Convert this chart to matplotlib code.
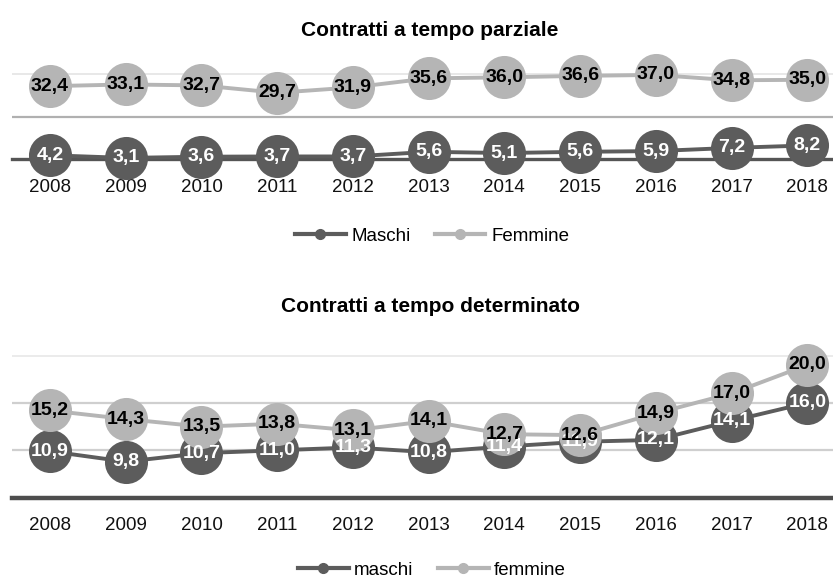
import matplotlib
matplotlib.use('Agg')
import matplotlib.pyplot as plt
from matplotlib.lines import Line2D

anni = ['2008', '2009', '2010', '2011', '2012', '2013', '2014', '2015', '2016', '2017', '2018']

parziale_maschi = [4.2, 3.1, 3.6, 3.7, 3.7, 5.6, 5.1, 5.6, 5.9, 7.2, 8.2]
parziale_femmine = [32.4, 33.1, 32.7, 29.7, 31.9, 35.6, 36.0, 36.6, 37.0, 34.8, 35.0]

determinato_maschi = [10.9, 9.8, 10.7, 11.0, 11.3, 10.8, 11.4, 11.9, 12.1, 14.1, 16.0]
determinato_femmine = [15.2, 14.3, 13.5, 13.8, 13.1, 14.1, 12.7, 12.6, 14.9, 17.0, 20.0]

FONT = ['Liberation Sans Narrow', 'Liberation Sans', 'DejaVu Sans']
plt.rcParams['font.family'] = FONT

C_M = '#5c5c5c'
C_F = '#b5b5b5'

W, H = 833, 582


def rect(left, top, right, bottom):
    # pixel box -> figure fraction
    return [left / W, 1 - bottom / H, (right - left) / W, (bottom - top) / H]


def fmt(v):
    return f"{v:.1f}".replace('.', ',')


def panel(ax, maschi, femmine, ylim, grid, base_color, base_lw, pad):
    x = list(range(len(anni)))
    ax.set_xlim(-0.5, 10.34)
    ax.set_ylim(*ylim)

    for v, col, lw in grid:
        ax.axhline(v, color=col, lw=lw, zorder=1)

    ax.plot(x, maschi, color=C_M, lw=2.8, zorder=2, clip_on=False)
    ax.plot(x, femmine, color=C_F, lw=2.8, zorder=2, clip_on=False)
    ax.plot(x, maschi, 'o', ms=31, color=C_M, mew=0, zorder=3, clip_on=False)
    ax.plot(x, femmine, 'o', ms=31, color=C_F, mew=0, zorder=4, clip_on=False)

    for xi, v in zip(x, maschi):
        ax.text(xi, v, fmt(v), ha='center', va='center', color='white',
                fontsize=14, fontweight='bold', zorder=5)
    for xi, v in zip(x, femmine):
        ax.text(xi, v, fmt(v), ha='center', va='center', color='black',
                fontsize=14, fontweight='bold', zorder=6)

    ax.set_xticks(x, anni)
    ax.set_yticks([])
    ax.tick_params(axis='x', length=0, pad=pad, labelsize=13.5, colors='#111111')
    for s in ['top', 'left', 'right']:
        ax.spines[s].set_visible(False)
    ax.spines['bottom'].set_color(base_color)
    ax.spines['bottom'].set_linewidth(base_lw)
    ax.spines['bottom'].set_zorder(1)
    ax.patch.set_alpha(0)


def legend(fig, labels, y_px):
    handles = [Line2D([], [], color=C_M, lw=3, marker='o', ms=7),
               Line2D([], [], color=C_F, lw=3, marker='o', ms=7)]
    fig.legend(handles, labels, loc='center', bbox_to_anchor=(432 / W, 1 - y_px / H),
               ncol=2, frameon=False, fontsize=13.5, handlelength=2.7,
               handletextpad=0.3, columnspacing=1.3)


fig = plt.figure(figsize=(W / 100, H / 100), dpi=100, facecolor='white')

ax1 = fig.add_axes(rect(12.15, 60.2, 833, 159.4))
panel(ax1, parziale_maschi, parziale_femmine, (2.5, 43.0),
      [(20.0, '#b0b0b0', 1.6), (37.5, '#e4e4e4', 1.2)], '#555555', 2.4, 14)
fig.text(430 / W, 1 - 30 / H, 'Contratti a tempo parziale', ha='center', va='center',
         fontsize=15, fontweight='bold')
legend(fig, ['Maschi', 'Femmine'], 236)

ax2 = fig.add_axes(rect(12.15, 341.3, 833, 497.7))
panel(ax2, determinato_maschi, determinato_femmine, (6.0, 22.5),
      [(11.0, '#cfcfcf', 1.6), (16.0, '#cfcfcf', 1.6), (21.0, '#e8e8e8', 1.2)],
      '#4d4d4d', 3.2, 14)
fig.text(430 / W, 1 - 306 / H, 'Contratti a tempo determinato', ha='center', va='center',
         fontsize=15, fontweight='bold')
legend(fig, ['maschi', 'femmine'], 570)

fig.savefig('out.png', dpi=100, facecolor='white')
plt.close(fig)
